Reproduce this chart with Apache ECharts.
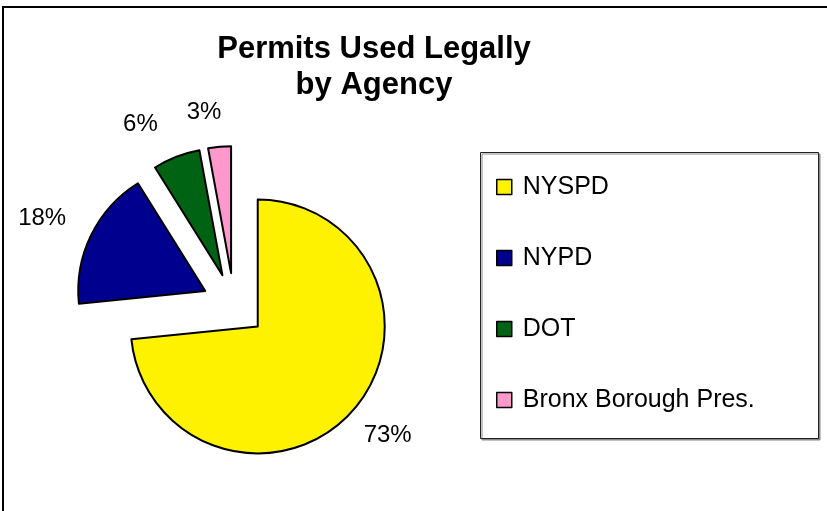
<!DOCTYPE html>
<html>
<head>
<meta charset="utf-8">
<title>Permits Used Legally by Agency</title>
<script src="https://cdn.jsdelivr.net/npm/echarts@6/dist/echarts.min.js"></script>
<style>
    html, body { margin: 0; padding: 0; background: #fff; }
    #chart { width: 827px; height: 511px; }
</style>
</head>
<body>
<div id="chart"></div>
<script>
// data (share of permits, %)
var agencies = ['NYSPD', 'NYPD', 'DOT', 'Bronx Borough Pres.'];
var shares = [73.4, 17.7, 6.0, 2.9];
var colors = ['#fef200', '#00008e', '#006314', '#ff99cc'];

// label line lengths used only to place the outside labels like the original
var labelLen = [36, 39, 35, 34];
var labelLen2 = [-20, -15, 1, -10];

var chart = echarts.init(document.getElementById('chart'));

var pieData = agencies.map(function (name, i) {
    return {
        name: name,
        value: shares[i],
        selected: true,
        itemStyle: { color: colors[i] },
        labelLine: { show: false, length: labelLen[i], length2: labelLen2[i] }
    };
});

var option = {
    animation: false,
    backgroundColor: '#fff',
    title: {
        text: 'Permits Used Legally\nby Agency',
        left: 369,
        top: 26,
        textAlign: 'center',
        textStyle: {
            fontFamily: 'Liberation Sans',
            fontSize: 31,
            fontWeight: 'bold',
            lineHeight: 36,
            color: '#000'
        }
    },
    graphic: [
        {
            // outer chart frame (cut off on the right and bottom)
            type: 'rect',
            silent: true,
            shape: { x: 3, y: 7, width: 900, height: 600 },
            style: { fill: null, stroke: '#000', lineWidth: 2 }
        },
        {
            // legend box
            type: 'rect',
            silent: true,
            z: 0,
            shape: { x: 480.5, y: 152.5, width: 338, height: 286 },
            style: {
                fill: '#fff', stroke: '#222', lineWidth: 1,
                shadowColor: '#888', shadowOffsetX: 1.5, shadowOffsetY: 1.5
            }
        }
    ],
    legend: {
        orient: 'vertical',
        left: 496,
        top: 174,
        padding: 0,
        itemGap: 45,
        itemWidth: 15,
        itemHeight: 15,
        icon: 'rect',
        selectedMode: false,
        z: 5,
        itemStyle: { borderColor: '#000', borderWidth: 1.5 },
        textStyle: {
            fontFamily: 'Liberation Sans',
            fontSize: 25,
            lineHeight: 26,
            color: '#000',
            padding: [0, 0, 0, 6]
        },
        data: agencies
    },
    series: [
        {
            name: 'Permits',
            type: 'pie',
            center: [234, 305],
            radius: 127,
            startAngle: 90,
            clockwise: true,
            selectedMode: 'multiple',
            selectedOffset: 32,
            avoidLabelOverlap: false,
            emphasis: { disabled: true },
            itemStyle: { borderColor: '#000', borderWidth: 2 },
            label: {
                show: true,
                position: 'outside',
                formatter: function (p) { return Math.round(p.percent) + '%'; },
                fontFamily: 'Liberation Sans',
                fontSize: 24,
                color: '#000'
            },
            data: pieData
        }
    ]
};

chart.setOption(option);
</script>
</body>
</html>
